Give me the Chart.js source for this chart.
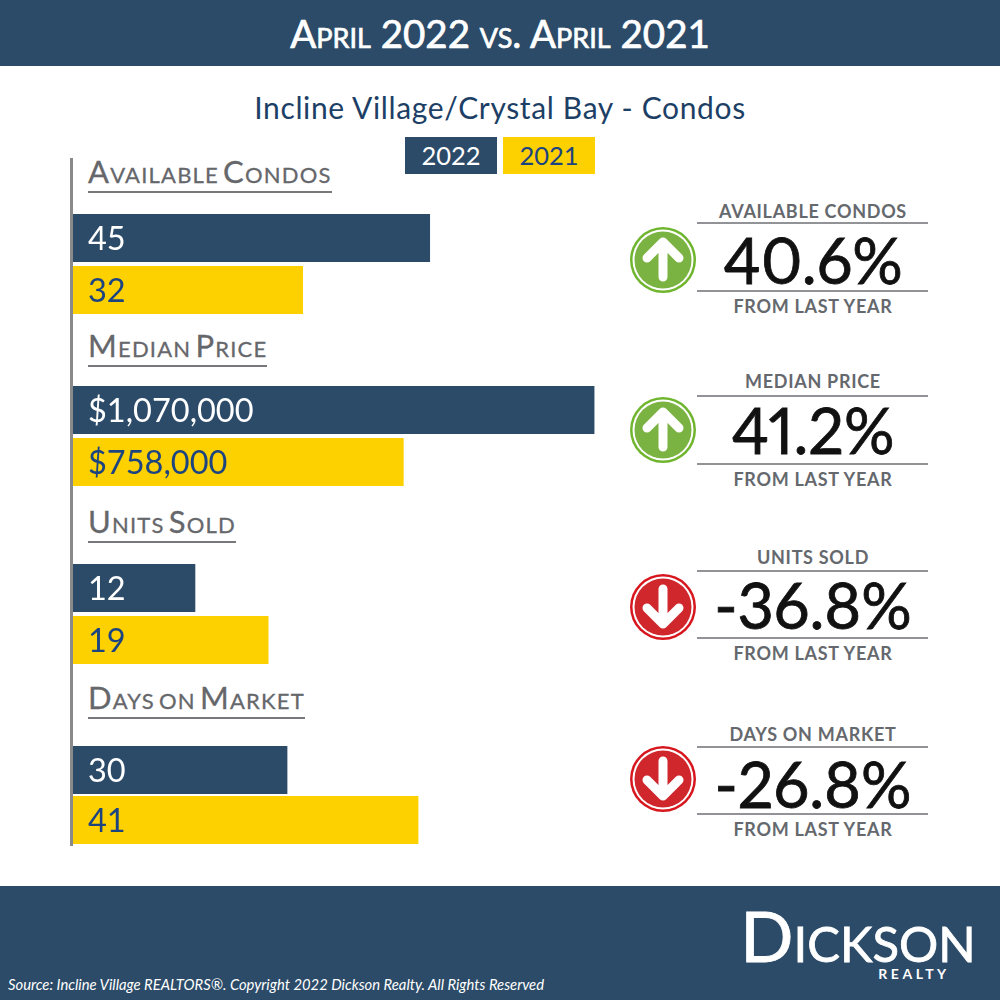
<!DOCTYPE html>
<html>
<head>
<meta charset="utf-8">
<title>April 2022 vs. April 2021</title>
<script src="https://cdn.jsdelivr.net/npm/chart.js@4"></script>
<style>
  html, body { margin: 0; padding: 0; background: #fff; }
  #page { position: relative; width: 1000px; height: 1000px; overflow: hidden; font-family: Lato, sans-serif; }
  #page > * { position: absolute; }
  .band { left: 0; width: 1000px; background: #2b4b68; }
  .center { text-align: center; white-space: nowrap; transform: translate(-50%, -50%); }
  #title { left: 500px; top: 33px; color: #fff; font-size: 38.5px; font-variant: small-caps; -webkit-text-stroke: 0.7px #fff; }
  #subtitle { left: 500px; top: 107px; color: #1d3f66; font-size: 30px; letter-spacing: 0.64px; }
  .legend-box { top: 137px; height: 37px; width: 92px; line-height: 37px; text-align: center; font-size: 25.5px; }
  #axis-line { left: 70px; top: 158px; width: 3px; height: 688px; background: #8a8a8a; }
  .heading { left: 88px; color: #66676b; font-size: 31px; font-variant: small-caps; letter-spacing: 1.2px; word-spacing: -5px; line-height: 34px; padding-bottom: 3px; border-bottom: 2px solid #77787b; white-space: nowrap; -webkit-text-stroke: 0.3px #66676b; }
  canvas { position: absolute; left: 73px; }
  .kpi-rule { left: 697px; width: 231px; height: 2px; background: #929397; }
  .kpi-name, .kpi-from { left: 813px; color: #65686d; font-size: 18px; font-weight: 700; letter-spacing: 0.7px; }
  .kpi-pct { left: 813px; color: #111; font-size: 63px; font-variant-numeric: proportional-nums; -webkit-text-stroke: 0.8px #111; }
  #source { left: 8px; top: 975px; color: #fff; font-size: 14.8px; font-style: italic; white-space: nowrap; }
  #logo { left: 858px; top: 935px; color: #fff; font-size: 70px; font-variant: small-caps; -webkit-text-stroke: 0.8px #fff; }
  #logo-sub { left: 914px; top: 973px; color: #fff; font-size: 14px; font-weight: 700; letter-spacing: 3.5px; }
</style>
</head>
<body>
<div id="page">
  <div class="band" style="top:0;height:66px"></div>
  <div class="band" style="top:886px;height:114px"></div>
  <div id="title" class="center">April 2022 vs. April 2021</div>
  <div id="subtitle" class="center">Incline Village/Crystal Bay - Condos</div>
  <div id="axis-line"></div>
  <div id="source">Source: Incline Village REALTORS®. Copyright 2022 Dickson Realty. All Rights Reserved</div>
  <div id="logo" class="center">Dickson</div>
  <div id="logo-sub" class="center">REALTY</div>
</div>
<script>
// data
const categories = ['Available Condos', 'Median Price', 'Units Sold', 'Days on Market'];
const seriesNames = ['2022', '2021'];
const values2022 = [45, 1070000, 12, 30];
const values2021 = [32, 758000, 19, 41];
const changes = [40.6, 41.2, -36.8, -26.8];
const fromLabel = 'FROM LAST YEAR';

// every panel has its own truncated axis, like the original graphic
const axisMin = [8.46, 217300, 0.3, 12];
const axisMax = [62.7, 1084000, 51, 56.5];

// layout
const panelTop = [212, 384, 562, 745];
const panelHeight = [104, 104, 104, 100];
const headingTop = [154, 328, 504, 680];
const kpiRuleTop = [222, 395, 570, 746];
const kpiRuleBottom = [290, 463, 637, 813];
const kpiNameY = [211, 381, 557, 734];
const kpiPctY = [259, 429, 604, 783];
const kpiFromY = [306, 479, 653, 829];
const iconY = [260, 430, 607, 779];

const NAVY = '#2b4b68';
const YELLOW = '#fdd000';
const page = document.getElementById('page');

const addDiv = (className, text, style) => {
    const el = document.createElement('div');
    el.className = className;
    el.textContent = text;
    Object.assign(el.style, style);
    page.appendChild(el);
    return el;
};

// legend boxes
addDiv('legend-box', seriesNames[0], { left: '405px', background: NAVY, color: '#fff' });
addDiv('legend-box', seriesNames[1], { left: '503px', background: YELLOW, color: '#1c4480' });

// draws the value inside each bar
const barLabels = {
    id: 'barLabels',
    afterDatasetsDraw(chart) {
        const ctx = chart.ctx;
        ctx.save();
        ctx.font = '32.5px Lato';
        ctx.textBaseline = 'middle';
        chart.data.datasets.forEach((ds, i) => {
            const bar = chart.getDatasetMeta(i).data[0];
            ctx.fillStyle = i === 0 ? '#fff' : '#1c4480';
            ctx.fillText(ds.valueLabel, chart.chartArea.left + 15, bar.y + 2);
        });
        ctx.restore();
    }
};

const formatValue = (category, v) => category === 'Median Price' ? '$' + v.toLocaleString('en-US') : String(v);

const arrowIcon = (up, y) => {
    const ring = up ? '#6fb52e' : '#d7161e';
    const fill = up ? '#7ab342' : '#d0272d';
    const path = up ? 'M0 17V-18M-16 -2L0 -18L16 -2' : 'M0 -18V17M-16 1L0 17L16 1';
    const wrap = document.createElement('div');
    wrap.style.cssText = `left:629px;top:${y - 34}px;width:68px;height:68px`;
    wrap.innerHTML = `<svg width="68" height="68" viewBox="-34 -34 68 68">
        <circle r="33" fill="${ring}"/><circle r="30.5" fill="#fff"/><circle r="28.5" fill="${fill}"/>
        <path d="${path}" fill="none" stroke="#fff" stroke-width="9" stroke-linecap="round" stroke-linejoin="round"/>
    </svg>`;
    page.appendChild(wrap);
};

categories.forEach((category, i) => {
    // heading above the bars
    addDiv('heading', category, { top: headingTop[i] + 'px' });

    // bars
    const canvas = document.createElement('canvas');
    canvas.width = 530;
    canvas.height = panelHeight[i];
    canvas.style.top = panelTop[i] + 'px';
    page.appendChild(canvas);
    new Chart(canvas.getContext('2d'), {
        type: 'bar',
        data: {
            labels: [category],
            datasets: [{
                label: seriesNames[0],
                data: [values2022[i]],
                valueLabel: formatValue(category, values2022[i]),
                backgroundColor: NAVY
            }, {
                label: seriesNames[1],
                data: [values2021[i]],
                valueLabel: formatValue(category, values2021[i]),
                backgroundColor: YELLOW
            }]
        },
        options: {
            indexAxis: 'y',
            responsive: false,
            animation: false,
            categoryPercentage: 1,
            barPercentage: 48 / (panelHeight[i] / 2),
            scales: {
                x: { display: false, min: axisMin[i], max: axisMax[i] },
                y: { display: false }
            },
            plugins: { legend: { display: false }, tooltip: { enabled: false } }
        },
        plugins: [barLabels]
    });

    // change block on the right
    arrowIcon(changes[i] > 0, iconY[i]);
    addDiv('kpi-name center', category.toUpperCase(), { top: kpiNameY[i] + 'px' });
    addDiv('kpi-rule', '', { top: kpiRuleTop[i] + 'px' });
    addDiv('kpi-pct center', changes[i].toFixed(1) + '%', { top: kpiPctY[i] + 'px' });
    addDiv('kpi-rule', '', { top: kpiRuleBottom[i] + 'px' });
    addDiv('kpi-from center', fromLabel, { top: kpiFromY[i] + 'px' });
});
</script>
</body>
</html>
